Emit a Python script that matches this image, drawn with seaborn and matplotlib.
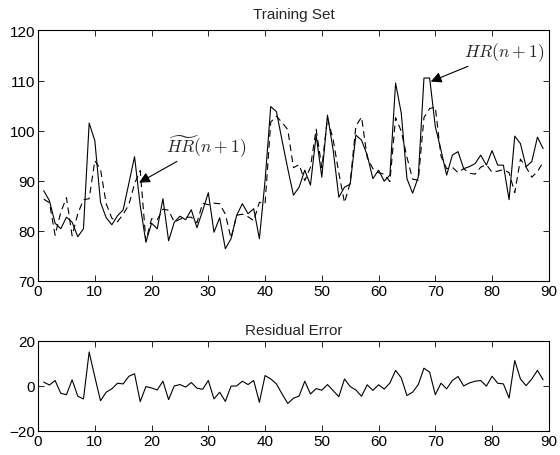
import matplotlib
matplotlib.use("Agg")
import matplotlib.pyplot as plt
import seaborn as sns
import pandas as pd

# ---- data ----
n_index = list(range(1, 90))

hr_actual = [88.0, 86.0, 81.5, 80.4, 82.7, 81.7, 78.8, 80.4, 101.5, 98.0,
             85.7, 82.6, 81.2, 83.0, 84.2, 89.5, 94.8, 85.0, 77.7, 81.5,
             80.4, 86.4, 78.0, 81.7, 82.9, 82.2, 84.2, 80.6, 84.0, 87.6,
             79.7, 82.6, 76.4, 78.4, 83.1, 85.4, 83.4, 84.4, 78.4, 90.0,
             104.8, 103.8, 98.0, 92.4, 87.1, 88.7, 92.1, 89.1, 99.1, 90.7,
             103.1, 96.1, 86.7, 88.7, 89.3, 99.1, 98.1, 95.1, 90.4, 92.1,
             89.9, 91.1, 109.5, 103.5, 90.4, 87.5, 90.7, 110.5, 110.5, 100.8,
             96.1, 91.1, 95.1, 95.8, 92.4, 92.8, 93.4, 95.1, 93.1, 96.0,
             93.1, 93.1, 86.2, 98.9, 97.4, 92.8, 93.8, 98.7, 96.4]

hr_predicted = [86.3, 85.6, 79.1, 83.7, 86.6, 79.0, 83.4, 86.2, 86.4, 94.0,
                92.3, 85.4, 82.5, 81.8, 83.3, 85.2, 89.4, 92.0, 78.0, 82.4,
                82.2, 84.3, 84.1, 81.7, 82.3, 82.7, 82.7, 81.6, 85.5, 85.2,
                85.5, 85.4, 83.3, 78.5, 83.1, 83.3, 82.8, 82.0, 85.7, 85.4,
                101.7, 102.9, 101.6, 100.2, 92.6, 93.2, 90.0, 92.7, 100.3, 92.6,
                102.5, 98.2, 91.5, 85.6, 89.6, 100.9, 102.7, 94.6, 92.4, 91.6,
                91.3, 89.8, 102.6, 99.9, 94.7, 90.3, 90.1, 102.6, 104.4, 104.7,
                94.9, 92.4, 92.7, 91.6, 92.4, 91.5, 91.3, 92.7, 93.2, 91.7,
                91.9, 92.2, 91.6, 87.6, 94.3, 92.7, 90.7, 91.8, 93.7]

residual = [1.7, 0.4, 2.4, -3.3, -3.9, 2.7, -4.6, -5.8, 15.1, 4.0,
            -6.6, -2.8, -1.3, 1.2, 0.9, 4.3, 5.4, -7.0, -0.3, -0.9,
            -1.8, 2.1, -6.1, 0.0, 0.6, -0.5, 1.5, -1.0, -1.5, 2.4,
            -5.8, -2.8, -6.9, -0.1, 0.0, 2.1, 0.6, 2.4, -7.3, 4.6,
            3.1, 0.9, -3.6, -7.8, -5.5, -4.5, 2.1, -3.6, -1.2, -1.9,
            0.6, -2.1, -4.8, 3.1, -0.3, -1.8, -4.6, 0.5, -2.0, 0.5,
            -1.4, 1.3, 6.9, 3.6, -4.3, -2.8, 0.6, 7.9, 6.1, -3.9,
            1.2, -1.3, 2.4, 4.2, 0.0, 1.3, 2.1, 2.4, -0.1, 4.3,
            1.2, 0.9, -5.4, 11.3, 3.1, 0.1, 3.1, 6.9, 2.7]

x_ticks = [0, 10, 20, 30, 40, 50, 60, 70, 80, 90]
top_yticks = [70, 80, 90, 100, 110, 120]
bot_yticks = [-20, 0, 20]
top_title = "Training Set"
bot_title = "Residual Error"
label_actual = r"$HR(n+1)$"
label_pred = r"$\widetilde{HR}(n+1)$"

df = pd.DataFrame({"n": n_index, "actual": hr_actual,
                   "pred": hr_predicted, "res": residual})

sns.set_style("ticks")
plt.rcParams["font.family"] = ["Liberation Sans", "DejaVu Sans"]
plt.rcParams["mathtext.fontset"] = "cm"
plt.rcParams["axes.unicode_minus"] = True

fig = plt.figure(figsize=(5.6, 4.56), dpi=100)
ax1 = fig.add_axes([0.068, 0.382, 0.912, 0.549])
ax2 = fig.add_axes([0.068, 0.053, 0.912, 0.197])

sns.lineplot(data=df, x="n", y="actual", ax=ax1, color="black", linewidth=0.8)
sns.lineplot(data=df, x="n", y="pred", ax=ax1, color="black", linewidth=0.8,
             linestyle=(0, (6, 4)))
sns.lineplot(data=df, x="n", y="res", ax=ax2, color="black", linewidth=0.8)

for ax, yt in ((ax1, top_yticks), (ax2, bot_yticks)):
    ax.set_xlim(0, 90)
    ax.set_ylim(yt[0], yt[-1])
    ax.set_xticks(x_ticks)
    ax.set_yticks(yt)
    ax.set_yticklabels([("\u2212" + str(-v)) if v < 0 else str(v) for v in yt])
    ax.set_xlabel("")
    ax.set_ylabel("")
    ax.tick_params(axis="both", which="both", direction="in", top=True, right=True,
                   labelsize=11, length=4, width=0.6, pad=2, colors="black")
    for s in ax.spines.values():
        s.set_visible(True)
        s.set_linewidth(0.8)
        s.set_color("black")

ax1.set_title(top_title, fontsize=11, pad=9)
ax2.set_title(bot_title, fontsize=11, pad=5)

arrowprops = dict(arrowstyle="-|>", color="black", lw=0.8,
                  mutation_scale=16, shrinkA=0, shrinkB=0)
ax1.annotate(label_pred, xy=(17.8, 89.6), xytext=(22.5, 94.5),
             fontsize=12.5, ha="left", va="bottom", arrowprops=arrowprops)
ax1.annotate(label_actual, xy=(69.2, 109.8), xytext=(75.0, 113.5),
             fontsize=12.5, ha="left", va="bottom", arrowprops=arrowprops)

fig.savefig("out.png", dpi=100)
